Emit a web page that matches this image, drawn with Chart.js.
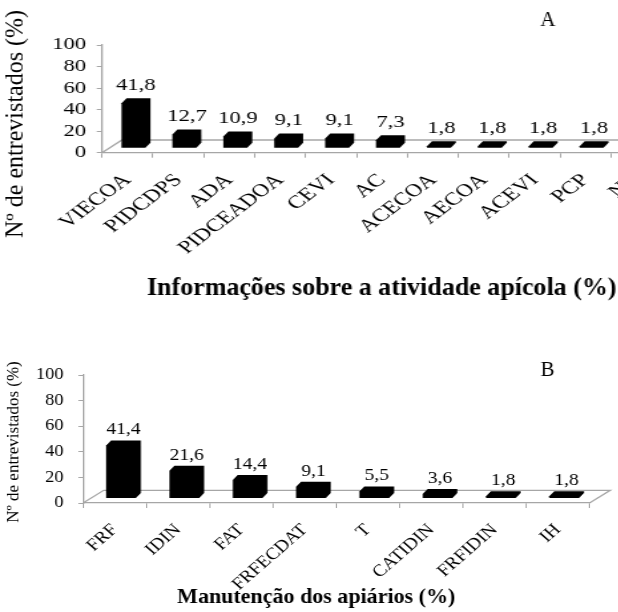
<!DOCTYPE html>
<html>
<head>
<meta charset="utf-8">
<script src="https://cdn.jsdelivr.net/npm/chart.js@4.4.1/dist/chart.umd.min.js"></script>
<style>
  html, body { margin: 0; padding: 0; background: #fff; overflow: hidden; width: 618px; height: 612px; }
  /* the reference plots are stretched sideways, so the canvases are too */
  #wrapA { position: absolute; left: 0; top: 0; width: 526px; height: 305px; transform: scaleX(1.33); transform-origin: 0 0; }
  #wrapB { position: absolute; left: 0; top: 310px; width: 537px; height: 302px; transform: scaleX(1.15); transform-origin: 0 0; }
</style>
</head>
<body>
<div id="wrapA"><canvas id="chartA"></canvas></div>
<div id="wrapB"><canvas id="chartB"></canvas></div>
<script>
// A - informações sobre a atividade apícola
const catsA = ['VIECOA', 'PIDCDPS', 'ADA', 'PIDCEADOA', 'CEVI', 'AC', 'ACECOA', 'AECOA', 'ACEVI', 'PCP', 'NR'];
const valsA = [41.8, 12.7, 10.9, 9.1, 9.1, 7.3, 1.8, 1.8, 1.8, 1.8, 1.8];
// B - manutenção dos apiários
const catsB = ['FRF', 'IDIN', 'FAT', 'FRFECDAT', 'T', 'CATIDIN', 'FRFIDIN', 'IH'];
const valsB = [41.4, 21.6, 14.4, 9.1, 5.5, 3.6, 1.8, 1.8];

const yMin = 0, yMax = 100, yStep = 20;
const SERIF = "'Liberation Serif', 'Times New Roman', serif";
const GRAY = '#a6a6a6';

// floor + 3d columns + value labels + titles
const bars3d = {
    id: 'bars3d',
    beforeDatasetsDraw(chart, args, o) {
        const ctx = chart.ctx, a = chart.chartArea;
        ctx.save();
        ctx.strokeStyle = GRAY;
        ctx.lineWidth = 1.3;
        ctx.beginPath();
        ctx.moveTo(a.left, a.bottom);
        ctx.lineTo(a.left + o.fx, a.bottom - o.fy);
        ctx.lineTo(a.right + o.fx, a.bottom - o.fy);
        ctx.lineTo(a.right, a.bottom);
        ctx.stroke();
        ctx.restore();
    },
    afterDatasetsDraw(chart, args, o) {
        const ctx = chart.ctx;
        const meta = chart.getDatasetMeta(0);
        const data = chart.data.datasets[0].data;
        ctx.save();
        meta.data.forEach((bar, i) => {
            const h = bar.base - bar.y;
            const L = bar.x - bar.width / 2 + o.sx, R = L + bar.width;
            const B = bar.base - o.sy, T = B - h;
            ctx.fillStyle = '#000';
            ctx.beginPath();
            ctx.moveTo(L, B);
            ctx.lineTo(L, T);
            ctx.lineTo(L + o.dx, T - o.dy);
            ctx.lineTo(R + o.dx, T - o.dy);
            ctx.lineTo(R + o.dx, B - o.dy);
            ctx.lineTo(R, B);
            ctx.closePath();
            ctx.fill();
            ctx.font = o.labelFont;
            ctx.textAlign = 'center';
            ctx.textBaseline = 'bottom';
            ctx.fillText(String(data[i]).replace('.', ','), (L + R) / 2 + o.dx / 2, T - o.dy - o.lpad);
        });
        ctx.restore();
    },
    afterDraw(chart, args, o) {
        const ctx = chart.ctx;
        // titles are not stretched in the reference: undo the css stretch
        const put = (text, x, y, font, rot) => {
            ctx.save();
            ctx.translate(x, y);
            ctx.scale(o.unstretch, 1);
            if (rot) ctx.rotate(-Math.PI / 2);
            ctx.font = font;
            ctx.fillStyle = '#000';
            ctx.textAlign = 'center';
            ctx.textBaseline = 'middle';
            ctx.fillText(text, 0, 0);
            ctx.restore();
        };
        put(o.letter, o.letterX, o.letterY, o.letterFont, false);
        put(o.xTitle, o.xTitleX, o.xTitleY, o.xTitleFont, false);
        put(o.yTitle, o.yTitleX, o.yTitleY, o.yTitleFont, true);
    }
};

function makeChart(id, cats, vals, lay, extra) {
    return new Chart(document.getElementById(id).getContext('2d'), {
        type: 'bar',
        data: {
            labels: cats,
            datasets: [{
                data: vals,
                backgroundColor: 'rgba(0,0,0,0)',
                borderWidth: 0,
                barPercentage: 0.47,
                categoryPercentage: 1
            }]
        },
        options: {
            responsive: true,
            maintainAspectRatio: false,
            animation: false,
            events: [],
            layout: { padding: { left: 0, right: lay.right, top: lay.top, bottom: 0 } },
            scales: {
                x: {
                    afterFit: s => { s.height = lay.xHeight; },
                    grid: { drawOnChartArea: false, tickLength: 5, color: GRAY, offset: true },
                    border: { color: GRAY, width: 1.3 },
                    ticks: {
                        autoSkip: false, minRotation: 45, maxRotation: 45,
                        padding: lay.xPad, color: '#000',
                        font: { family: SERIF, size: lay.catSize }
                    }
                },
                y: {
                    min: yMin, max: yMax,
                    afterFit: s => { s.width = lay.yWidth; },
                    grid: { drawOnChartArea: false, tickLength: 4, color: GRAY },
                    border: { color: GRAY, width: 1.3 },
                    ticks: {
                        autoSkip: false, stepSize: yStep, padding: lay.yPad, color: '#000',
                        font: { family: SERIF, size: lay.tickSize }
                    }
                }
            },
            plugins: {
                legend: { display: false },
                tooltip: { enabled: false },
                bars3d: extra
            }
        },
        plugins: [bars3d]
    });
}

makeChart('chartA', catsA, valsA,
    { right: 28.3, top: 45, xHeight: 152.3, yWidth: 76.7, xPad: 12, yPad: 8, catSize: 18, tickSize: 17 },
    {
        unstretch: 1 / 1.33,
        fx: 15, fy: 12.7, sx: 4.5, sy: 4.5, dx: 3.8, dy: 5, lpad: 4,
        labelFont: '17px ' + SERIF,
        letter: 'A', letterX: 412, letterY: 20, letterFont: '21px ' + SERIF,
        xTitle: 'Informações sobre a atividade apícola (%)', xTitleX: 287, xTitleY: 288,
        xTitleFont: 'bold 26px ' + SERIF,
        yTitle: 'Nº de entrevistados (%)', yTitleX: 12, yTitleY: 124, yTitleFont: '24px ' + SERIF
    });

makeChart('chartB', catsB, valsB,
    { right: 24.4, top: 65, xHeight: 109, yWidth: 72.2, xPad: 12, yPad: 13, catSize: 17, tickSize: 16 },
    {
        unstretch: 1 / 1.15,
        fx: 18, fy: 12.7, sx: 5.5, sy: 4.5, dx: 4.3, dy: 5, lpad: 2,
        labelFont: '17px ' + SERIF,
        letter: 'B', letterX: 476, letterY: 60, letterFont: '21px ' + SERIF,
        xTitle: 'Manutenção dos apiários (%)', xTitleX: 275, xTitleY: 287,
        xTitleFont: 'bold 22px ' + SERIF,
        yTitle: 'Nº de entrevistados (%)', yTitleX: 12, yTitleY: 132, yTitleFont: '17px ' + SERIF
    });
</script>
</body>
</html>
